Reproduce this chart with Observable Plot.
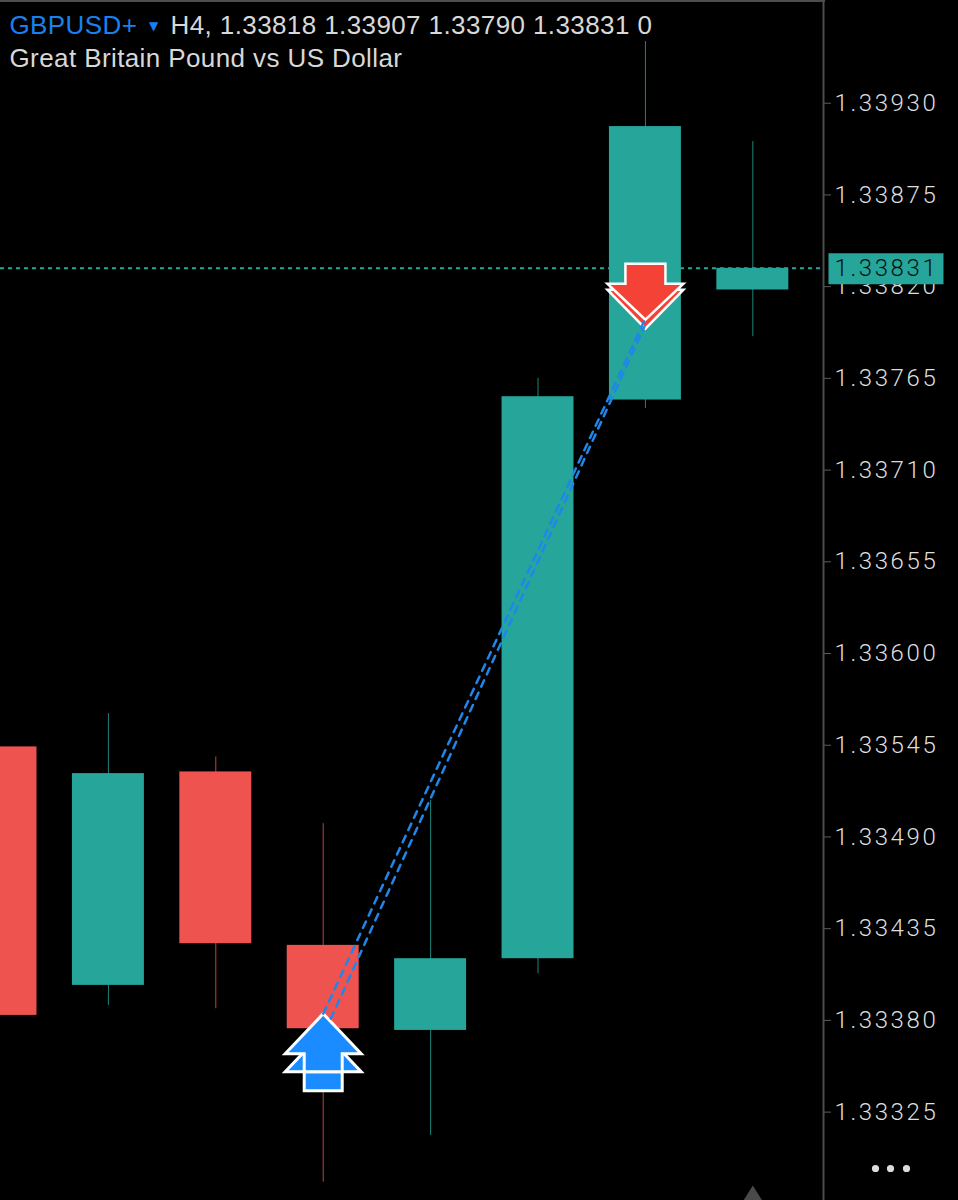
<!DOCTYPE html>
<html>
<head>
<meta charset="utf-8">
<script src="https://cdn.jsdelivr.net/npm/d3@7"></script>
<script src="https://cdn.jsdelivr.net/npm/@observablehq/plot@0.6"></script>
<style>
html,body{margin:0;padding:0;background:#000}
svg{display:block}
.ax text{letter-spacing:2.6px;font-weight:300}
.hdr text{letter-spacing:.4px}
.px text{letter-spacing:2.6px}
</style>
</head>
<body>
<div id="chart"></div>
<script>
const symbolName = "GBPUSD+";
const quote = "H4, 1.33818 1.33907 1.33790 1.33831 0";
const subtitle = "Great Britain Pound vs US Dollar";
const index = [0, 1, 2, 3, 4, 5, 6, 7];
const opens  = [1.33544, 1.33401, 1.33529, 1.33425, 1.33374, 1.33417, 1.33752, 1.33818];
const closes = [1.33383, 1.33528, 1.33426, 1.33375, 1.33417, 1.33754, 1.33916, 1.33831];
const highs  = [1.33544, 1.33564, 1.33538, 1.33498, 1.33512, 1.33765, 1.33967, 1.33907];
const lows   = [1.33383, 1.33389, 1.33387, 1.33283, 1.33311, 1.33408, 1.33747, 1.33790];
const tickValues = [1.33930, 1.33875, 1.33820, 1.33765, 1.33710, 1.33655, 1.33600, 1.33545, 1.33490, 1.33435, 1.33380, 1.33325];
const lastPrice = 1.33831;
const signalA = {x: [3, 6], y: [1.33384, 1.33801]};
const signalB = {x: [3.07, 5.99], y: [1.33381, 1.33796]};
const buyMark = {x: 3, y: 1.33384};
const sellMark = {x: 6, y: 1.33799};

const green = "#26a69a", red = "#ef5350";
const candles = index.map(i => ({
  i, open: opens[i], close: closes[i], high: highs[i], low: lows[i],
  color: closes[i] >= opens[i] ? green : red
}));
const toPoints = s => s.x.map((x, k) => ({x, y: s.y[k], s}));

function poly(points) {
  return {draw(c) {
    points.forEach(([a, b], k) => k ? c.lineTo(a, b) : c.moveTo(a, b));
    c.closePath();
  }};
}
const upBackHead = poly([[0,18],[38,58],[-38,58]]);
const upMain = poly([[0,0],[38,40],[19,40],[19,58],[-19,58],[-19,40],[-38,40]]);
const upTail = poly([[19,58],[19,77],[-19,77],[-19,58]]);
const downBackHead = poly([[0,7],[38,-32],[-38,-32]]);
const downMain = poly([[0,-2],[38,-38],[20,-38],[20,-58],[-20,-58],[-20,-38],[-38,-38]]);
const priceBox = poly([[5,-15],[120,-15],[120,16],[5,16]]);
const cornerTriangle = {draw(c) { c.moveTo(0,0); c.lineTo(10,16); c.lineTo(-10,16); c.closePath(); }};
const threeDots = {draw(c) {
  [52, 67, 83].forEach(a => { c.moveTo(a + 3.6, -32); c.arc(a, -32, 3.6, 0, 2 * Math.PI); });
}};

const bodyFont = "Liberation Sans, Arial, sans-serif";
const hdr = (text, dx, dy, fill, size = 26) => Plot.text([text], {
  frameAnchor: "top-left", textAnchor: "start", lineAnchor: "middle",
  dx, dy, fill, fontSize: size, fontFamily: bodyFont, className: "hdr"
});

const chart = Plot.plot({
  width: 958, height: 1200,
  marginTop: 0, marginBottom: 0, marginLeft: 0, marginRight: 135,
  style: {background: "#000", color: "#d8d8d8"},
  x: {axis: null, domain: [-0.00466, 7.658]},
  y: {domain: [1.33272, 1.339916], label: null},
  color: {type: "identity"},
  marks: [
    Plot.frame({anchor: "right", stroke: "#4d4d4d", strokeWidth: 2}),
    Plot.frame({anchor: "top", stroke: "#4d4d4d", strokeWidth: 3}),
    Plot.axisY({
      anchor: "right", ticks: tickValues, tickFormat: d3.format(".5f"),
      tickSize: 7, tickPadding: 4, label: null, fontSize: 24,
      fontFamily: "Roboto, Liberation Sans, sans-serif",
      stroke: "#5a5a5a", fill: "#dedede", className: "ax"
    }),
    Plot.ruleX(candles.filter(d => d.i > 0), {x: "i", y1: "low", y2: "high", stroke: "color", strokeOpacity: 0.8, strokeWidth: 1}),
    Plot.rect(candles, {x1: d => d.i - 0.335, x2: d => d.i + 0.335, y1: "open", y2: "close", fill: "color"}),
    Plot.ruleY([lastPrice], {stroke: green, strokeWidth: 2, strokeDasharray: "4,4"}),
    Plot.dot([0], {y: () => lastPrice, frameAnchor: "right", symbol: priceBox, fill: green, stroke: "none"}),
    Plot.text([d3.format(".5f")(lastPrice)], {
      y: () => lastPrice, frameAnchor: "right", textAnchor: "start", dx: 11,
      fill: "#06120f", fontSize: 24, fontWeight: 300,
      fontFamily: "Roboto, Liberation Sans, sans-serif", className: "px"
    }),
    Plot.dot([sellMark], {x: "x", y: "y", symbol: downBackHead, fill: "#f44336", stroke: "#fff", strokeWidth: 2.5}),
    Plot.dot([sellMark], {x: "x", y: "y", symbol: downMain, fill: "#f44336", stroke: "#fff", strokeWidth: 2.5}),
    Plot.dot([buyMark], {x: "x", y: "y", symbol: upBackHead, fill: "#1a8cff", stroke: "#fff", strokeWidth: 3}),
    Plot.dot([buyMark], {x: "x", y: "y", symbol: upTail, fill: "#1a8cff", stroke: "#fff", strokeWidth: 3}),
    Plot.dot([buyMark], {x: "x", y: "y", symbol: upMain, fill: "#1a8cff", stroke: "#fff", strokeWidth: 3}),
    Plot.line(toPoints(signalA), {x: "x", y: "y", stroke: "#1f86ea", strokeWidth: 2.5, strokeDasharray: "7,6.5"}),
    Plot.line(toPoints(signalB), {x: "x", y: "y", stroke: "#1f86ea", strokeWidth: 2.5, strokeDasharray: "7,6.5"}),
    Plot.dot([0], {x: () => 7, frameAnchor: "bottom", dy: -15, symbol: cornerTriangle, fill: "#4a4a4a", stroke: "none"}),
    Plot.dot([0], {frameAnchor: "bottom-right", symbol: threeDots, fill: "#dcdcdc", stroke: "none"}),
    hdr(symbolName, 9, 25, "#1a80f0"),
    Plot.text(["▼"], {frameAnchor: "top-left", textAnchor: "middle", lineAnchor: "middle", dx: 153, dy: 26, fill: "#1a80f0", fontSize: 12, fontFamily: "DejaVu Sans"}),
    hdr(quote, 170, 25, "#d8d8d8"),
    hdr(subtitle, 9, 58, "#d8d8d8")
  ]
});
document.getElementById("chart").appendChild(chart);
</script>
</body>
</html>
